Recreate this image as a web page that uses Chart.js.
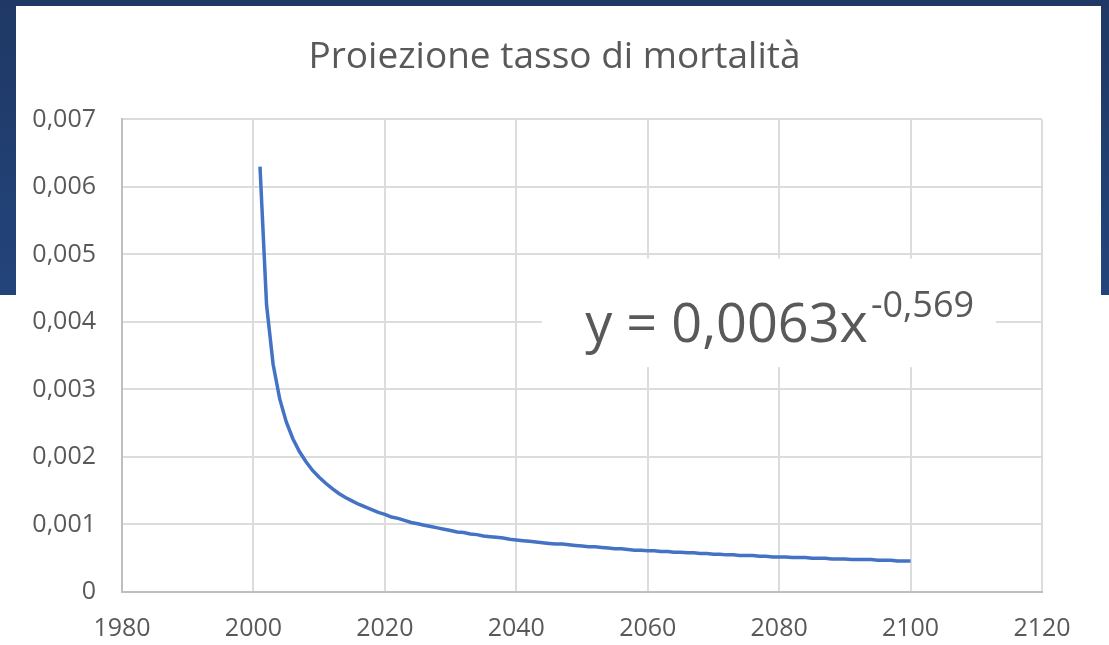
<!DOCTYPE html>
<html>
<head>
<meta charset="utf-8">
<script src="https://cdn.jsdelivr.net/npm/chart.js@4"></script>
<style>
  html, body { margin: 0; padding: 0; }
  body {
    width: 1109px; height: 645px; overflow: hidden; position: relative;
    background: linear-gradient(180deg, #1f3865 0%, #23447b 45%, #24487f 100%);
  }
  .pannello { position: absolute; background: #fff; }
  #alto { left: 16px; top: 6px; width: 1085px; height: 639px; }
  #basso { left: 0; top: 295px; width: 1109px; height: 350px; }
  #box { position: absolute; left: 0; top: 0; width: 1109px; height: 645px; }
</style>
</head>
<body>
<div class="pannello" id="alto"></div>
<div class="pannello" id="basso"></div>
<div id="box"><canvas id="grafico"></canvas></div>
<script>
// ==========================
// DATI
// ==========================
const anni = [
  2001, 2002, 2003, 2004, 2005, 2006, 2007, 2008, 2009, 2010,
  2011, 2012, 2013, 2014, 2015, 2016, 2017, 2018, 2019, 2020,
  2021, 2022, 2023, 2024, 2025, 2026, 2027, 2028, 2029, 2030,
  2031, 2032, 2033, 2034, 2035, 2036, 2037, 2038, 2039, 2040,
  2041, 2042, 2043, 2044, 2045, 2046, 2047, 2048, 2049, 2050,
  2051, 2052, 2053, 2054, 2055, 2056, 2057, 2058, 2059, 2060,
  2061, 2062, 2063, 2064, 2065, 2066, 2067, 2068, 2069, 2070,
  2071, 2072, 2073, 2074, 2075, 2076, 2077, 2078, 2079, 2080,
  2081, 2082, 2083, 2084, 2085, 2086, 2087, 2088, 2089, 2090,
  2091, 2092, 2093, 2094, 2095, 2096, 2097, 2098, 2099, 2100
];
const tassoMortalita = [
  0.00630, 0.00425, 0.00337, 0.00286, 0.00252, 0.00227, 0.00208, 0.00193, 0.00180, 0.00170,
  0.00161, 0.00153, 0.00146, 0.00140, 0.00135, 0.00130, 0.00126, 0.00122, 0.00118, 0.00115,
  0.00111, 0.00109, 0.00106, 0.00103, 0.00101, 0.00099, 0.00097, 0.00095, 0.00093, 0.00091,
  0.00089, 0.00088, 0.00086, 0.00085, 0.00083, 0.00082, 0.00081, 0.00080, 0.00078, 0.00077,
  0.00076, 0.00075, 0.00074, 0.00073, 0.00072, 0.00071, 0.00071, 0.00070, 0.00069, 0.00068,
  0.00067, 0.00067, 0.00066, 0.00065, 0.00064, 0.00064, 0.00063, 0.00062, 0.00062, 0.00061,
  0.00061, 0.00060, 0.00060, 0.00059, 0.00059, 0.00058, 0.00058, 0.00057, 0.00057, 0.00056,
  0.00056, 0.00055, 0.00055, 0.00054, 0.00054, 0.00054, 0.00053, 0.00053, 0.00052, 0.00052,
  0.00052, 0.00051, 0.00051, 0.00051, 0.00050, 0.00050, 0.00050, 0.00049, 0.00049, 0.00049,
  0.00048, 0.00048, 0.00048, 0.00048, 0.00047, 0.00047, 0.00047, 0.00046, 0.00046, 0.00046
];
const tickAnni = [1980, 2000, 2020, 2040, 2060, 2080, 2100, 2120];
const tickTasso = [0, 0.001, 0.002, 0.003, 0.004, 0.005, 0.006, 0.007];

const titolo = "Proiezione tasso di mortalità";
const equazione = "y = 0,0063x";
const esponente = "-0,569";

// ==========================
// STILI
// ==========================
const grigioTesto = "#595959";
const grigioGriglia = "#dcdcdc";
const blu = "#4472c4";
const font = "'Open Sans', sans-serif";

// posizione etichetta equazione (in unità del grafico)
const etichetta = { x: 2050.5, y: 0.00371, boxX1: 2043.9, boxX2: 2113, boxY1: 0.00494, boxY2: 0.00333 };

const formattaTasso = v => v === 0 ? "0" : v.toFixed(3).replace(".", ",");

// etichetta della linea di tendenza
const pluginEquazione = {
  id: "equazione",
  afterDatasetsDraw(chart) {
    const { ctx, scales: { x, y } } = chart;
    ctx.save();
    const bx1 = x.getPixelForValue(etichetta.boxX1), bx2 = x.getPixelForValue(etichetta.boxX2);
    const by1 = y.getPixelForValue(etichetta.boxY1), by2 = y.getPixelForValue(etichetta.boxY2);
    ctx.fillStyle = "#fff";
    ctx.fillRect(bx1, by1, bx2 - bx1, by2 - by1);
    const tx = x.getPixelForValue(etichetta.x), ty = y.getPixelForValue(etichetta.y);
    ctx.fillStyle = grigioTesto;
    ctx.textBaseline = "alphabetic";
    ctx.textAlign = "left";
    ctx.font = "54px " + font;
    ctx.fillText(equazione, tx, ty);
    const w = ctx.measureText(equazione).width;
    ctx.font = "36px " + font;
    ctx.fillText(esponente, tx + w + 3, ty - 25);
    ctx.restore();
  }
};

new Chart(document.getElementById("grafico"), {
  type: "line",
  data: {
    datasets: [{
      data: anni.map((a, i) => ({ x: a, y: tassoMortalita[i] })),
      borderColor: blu,
      borderWidth: 3.5,
      pointRadius: 0,
      tension: 0,
      fill: false
    }]
  },
  options: {
    responsive: true,
    maintainAspectRatio: false,
    animation: false,
    layout: { padding: 0 },
    plugins: {
      legend: { display: false },
      tooltip: { enabled: false },
      title: {
        display: true,
        text: titolo,
        color: grigioTesto,
        font: { family: font, size: 37, weight: "normal", lineHeight: 1.2 },
        padding: { top: 35, bottom: 40 }
      }
    },
    scales: {
      x: {
        type: "linear",
        min: tickAnni[0],
        max: tickAnni[tickAnni.length - 1],
        afterBuildTicks: s => { s.ticks = tickAnni.map(v => ({ value: v })); },
        ticks: {
          callback: v => String(v),
          color: grigioTesto,
          font: { family: font, size: 25 },
          padding: 22,
          maxRotation: 0
        },
        grid: { color: grigioGriglia, lineWidth: 2, drawTicks: false },
        border: { color: "#bfbfbf", width: 2 },
        afterFit: s => { s.height = 53; }
      },
      y: {
        min: tickTasso[0],
        max: tickTasso[tickTasso.length - 1],
        afterBuildTicks: s => { s.ticks = tickTasso.map(v => ({ value: v })); },
        ticks: {
          callback: v => formattaTasso(v),
          color: grigioTesto,
          font: { family: font, size: 25 },
          padding: 26
        },
        grid: { color: grigioGriglia, lineWidth: 2, drawTicks: false },
        border: { color: "#bfbfbf", width: 2 },
        afterFit: s => { s.width = 122; }
      },
      destra: {
        position: "right",
        min: 0,
        max: 1,
        ticks: { display: false },
        grid: { display: false },
        border: { display: false },
        afterFit: s => { s.width = 67; }
      }
    }
  },
  plugins: [pluginEquazione]
});
</script>
</body>
</html>
